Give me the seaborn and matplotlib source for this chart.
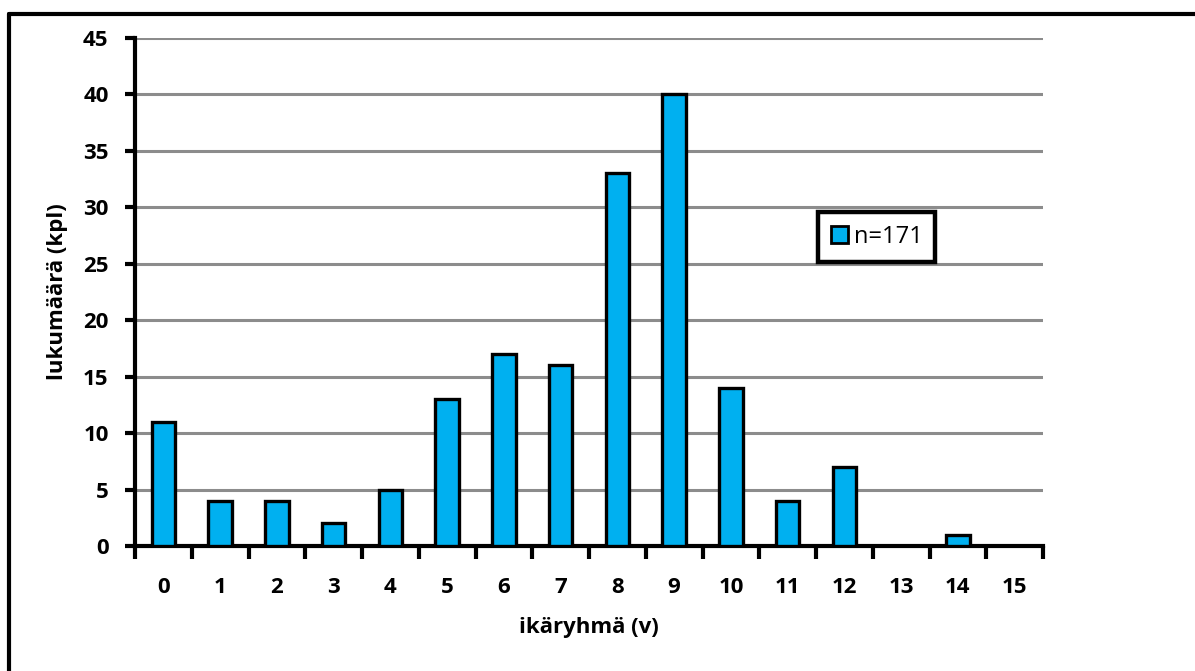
import matplotlib
matplotlib.use("Agg")
import matplotlib.pyplot as plt
import seaborn as sns
import pandas as pd
import numpy as np
from matplotlib.lines import Line2D

ages = ["0", "1", "2", "3", "4", "5", "6", "7", "8", "9", "10", "11", "12", "13", "14", "15"]
counts = [11, 4, 4, 2, 5, 13, 17, 16, 33, 40, 14, 4, 7, 0, 1, 0]
legend_label = "n=171"
x_label = "ikäryhmä (v)"
y_label = "lukumäärä (kpl)"
y_ticks = [0, 5, 10, 15, 20, 25, 30, 35, 40, 45]

sns.set_style("white")
plt.rcParams["font.family"] = ["Open Sans", "DejaVu Sans"]
plt.rcParams["text.color"] = "black"
plt.rcParams["axes.labelcolor"] = "black"
plt.rcParams["xtick.color"] = "black"
plt.rcParams["ytick.color"] = "black"

df = pd.DataFrame({"age": ages, "count": counts})

fig = plt.figure(figsize=(11.95, 6.71), dpi=100)
ax = fig.add_axes([135 / 1195, 1 - 546 / 671, (1043 - 135) / 1195, (546 - 38) / 671])

sns.barplot(data=df, x="age", y="count", order=ages, color="#00B0F0", width=0.41,
            edgecolor="black", linewidth=2.4, saturation=1, ax=ax, zorder=3)

fs = 16
ax.set_xlim(-0.5, len(ages) - 0.5)
ax.set_ylim(0, 45)
ax.set_yticks(y_ticks)
ax.set_yticklabels([str(v) for v in y_ticks], fontsize=fs, fontweight="bold")

# category boundaries as major ticks, labels at category centers
ax.set_xticks(np.arange(-0.5, len(ages), 1.0))
ax.set_xticklabels([])
ax.set_xticks(np.arange(len(ages)), minor=True)
ax.set_xticklabels(ages, minor=True, fontsize=fs, fontweight="bold")
ax.tick_params(axis="x", which="major", bottom=True, length=9, width=3, direction="out", color="black")
ax.tick_params(axis="x", which="minor", bottom=True, length=0, pad=22, labelcolor="black")
ax.tick_params(axis="y", which="major", left=True, length=7, width=3, direction="out", color="black",
               pad=12, labelcolor="black")

ax.grid(axis="y", color="#8c8c8c", linewidth=2.2)
ax.grid(axis="x", visible=False)
ax.set_axisbelow(True)

for s in ["top", "right"]:
    ax.spines[s].set_visible(False)
for s in ["left", "bottom"]:
    ax.spines[s].set_linewidth(3)
    ax.spines[s].set_color("black")

ax.set_xlabel(x_label, fontsize=fs, fontweight="bold", labelpad=14, color="black")
ax.set_ylabel(y_label, fontsize=fs, fontweight="bold", labelpad=11, color="black")

handle = ax.patches[0]
leg = ax.legend([handle], [legend_label], loc="center", bbox_to_anchor=(0.817, 0.609),
                fontsize=17, frameon=True, fancybox=False, framealpha=1,
                handlelength=0.7, handleheight=0.7,
                handletextpad=0.25, borderpad=0.55, borderaxespad=0)
leg.get_frame().set_edgecolor("black")
leg.get_frame().set_linewidth(3.2)
for t in leg.get_texts():
    t.set_color("black")
for h in leg.legend_handles:
    h.set_linewidth(2)
    h.set_edgecolor("black")
leg.set_zorder(5)

# outer chart border (top and left visible)
fig.add_artist(Line2D([9 / 1195, 9 / 1195], [0, 1 - 14 / 671], transform=fig.transFigure, color="black", linewidth=3))
fig.add_artist(Line2D([9 / 1195, 1], [1 - 14 / 671, 1 - 14 / 671], transform=fig.transFigure, color="black", linewidth=3))

fig.savefig("out.png", dpi=100, facecolor="white")
